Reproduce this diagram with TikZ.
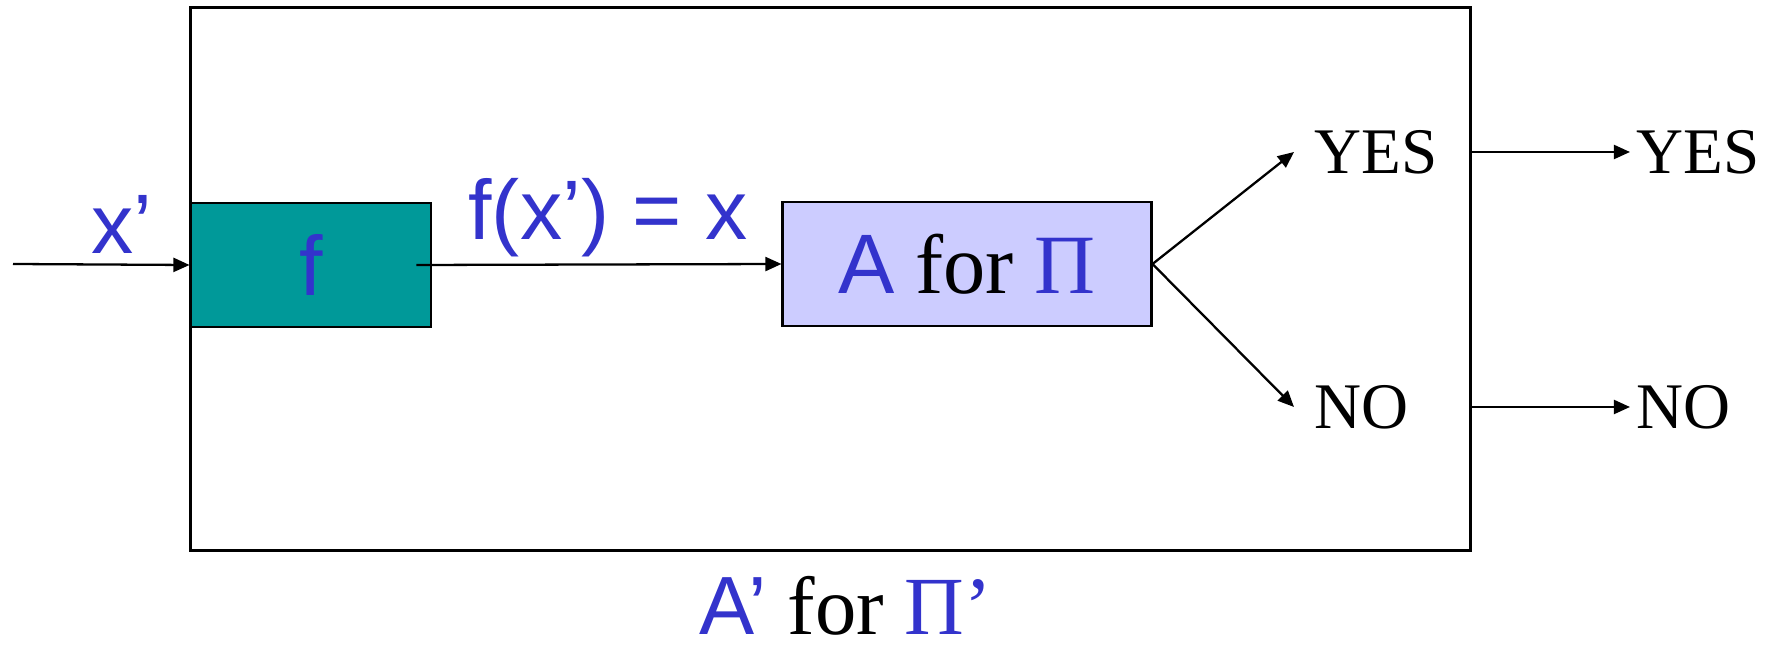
\documentclass[tikz,border=0pt]{standalone}
\usepackage{fontspec}
\setmainfont{Liberation Serif}
\newfontfamily\blsans{Liberation Sans}
\usetikzlibrary{arrows.meta}
\definecolor{rdteal}{HTML}{009999}
\definecolor{rdblue}{HTML}{3333CC}
\definecolor{rdlav}{HTML}{CCCCFF}
\newcommand{\bls}[1]{\textcolor{rdblue}{\blsans #1}}
\newcommand{\blp}[1]{\textcolor{rdblue}{#1}}

\begin{document}
\begin{tikzpicture}[x=0.01cm, y=-0.01cm,
  box/.style={draw=black, line width=0.8pt, inner sep=0pt},
  arr/.style={-{Triangle[length=4.6pt, width=4pt]}, line width=0.65pt},
  big/.style={font=\fontsize{24}{28}\selectfont, inner sep=1pt},
  ans/.style={font=\fontsize{18.5}{22}\selectfont, inner sep=0pt}]
  \useasboundingbox (0,0) rectangle (1769,649);
  % boxes
  \node[box, minimum width=12.80cm, minimum height=5.42cm] (outer) at (830.5,279) {};
  \node[box, fill=rdteal, minimum width=2.40cm, minimum height=1.24cm, big] (fbox) at (311,265) {\bls{f}};
  \node[box, fill=rdlav, minimum width=3.68cm, minimum height=1.24cm, big] (abox) at (967,264) {\bls{A} for \blp{Π}};
  % labels
  \node[big] (xin) at (122,224) {\bls{x’}};
  \node[big] (fx) at (608,218) {\bls{f(x’) = x}};
  \node[ans, anchor=west, inner xsep=0.2cm] (yes) at (1294,152) {YES};
  \node[ans, anchor=west, inner xsep=0.2cm] (no) at (1294,407) {NO};
  \node[ans, anchor=west, inner xsep=0.06cm] (ryes) at (1630,152) {YES};
  \node[ans, anchor=west, inner xsep=0.06cm] (rno) at (1630,407) {NO};
  \node[big, font=\fontsize{23.5}{28}\selectfont] (title) at (846,606) {\bls{A’} for \blp{Π’}};
  % connectors
  \coordinate (in) at (13,264);
  \draw[arr] (in) -- (fbox.west);
  \draw[arr] ([xshift=-0.16cm]fbox.east) -- (abox.west);
  \draw[arr] (abox.east) -- (yes.west);
  \draw[arr] (abox.east) -- (no.west);
  \draw[arr] (outer.east |- ryes.west) -- (ryes.west);
  \draw[arr] (outer.east |- rno.west) -- (rno.west);
\end{tikzpicture}
\end{document}
